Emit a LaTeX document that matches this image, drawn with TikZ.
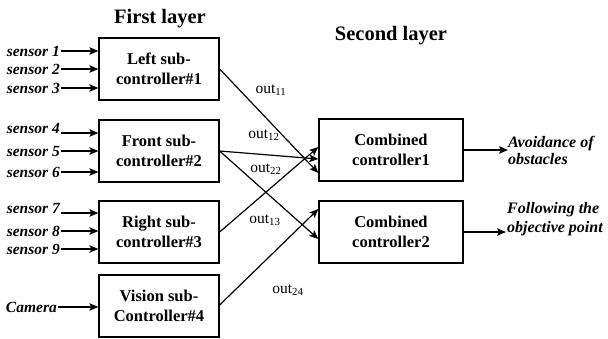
\documentclass[tikz,border=0pt]{standalone}
\usepackage{fontspec}
\setmainfont{Liberation Serif}
\usetikzlibrary{arrows.meta}
\tikzset{
  ctrl/.style={draw, line width=1.3pt, minimum width=120pt, minimum height=62pt,
    align=center, inner sep=0pt, font=\fontsize{16.5}{19.5}\selectfont\bfseries},
  comb/.style={ctrl, minimum width=144pt},
  inlabel/.style={anchor=east, inner sep=1pt, font=\fontsize{15.5}{18}\selectfont\bfseries\itshape},
  outlabel/.style={anchor=west, align=left, inner sep=0pt, font=\fontsize{16}{17}\selectfont\bfseries\itshape},
  sig/.style={font=\fontsize{15.5}{17}\selectfont, inner sep=0pt},
  heading/.style={font=\fontsize{20.5}{22}\selectfont\bfseries, inner sep=0pt},
  arr/.style={line width=1.2pt, -{Stealth[length=9pt,width=7.5pt,inset=2pt]}}
}
\begin{document}
\begin{tikzpicture}[x=1pt,y=-1pt]
\useasboundingbox (0,0) rectangle (608,338);

% headings
\node[heading] (h1) at (160,19) {First layer};
\node[heading] (h2) at (391,36) {Second layer};

% first layer controllers
\node[ctrl] (b1) at (159,69)  {Left sub-\\controller\#1};
\node[ctrl] (b2) at (159,151) {Front sub-\\controller\#2};
\node[ctrl] (b3) at (159,232) {Right sub-\\controller\#3};
\node[ctrl] (b4) at (159,306) {Vision sub-\\Controller\#4};

% second layer controllers
\node[comb] (c1) at (391,150) {Combined\\controller1};
\node[comb] (c2) at (391,232) {Combined\\controller2};

% sensor inputs
\node[inlabel] (s1) at (61,51)  {sensor 1};
\node[inlabel] (s2) at (61,69)  {sensor 2};
\node[inlabel] (s3) at (61,88)  {sensor 3};
\node[inlabel] (s4) at (61,128) {sensor 4};
\node[inlabel] (s5) at (61,151) {sensor 5};
\node[inlabel] (s6) at (61,172) {sensor 6};
\node[inlabel] (s7) at (61,208) {sensor 7};
\node[inlabel] (s8) at (61,231) {sensor 8};
\node[inlabel] (s9) at (61,249) {sensor 9};
\node[inlabel] (cam) at (58,307) {Camera};

\coordinate (p4) at (61,133);
\coordinate (p7) at (61,213);

\draw[arr] (s1.east) -- (s1.east -| b1.west);
\draw[arr] (s2.east) -- (s2.east -| b1.west);
\draw[arr] (s3.east) -- (s3.east -| b1.west);
\draw[arr] (p4) -- (p4 -| b2.west);
\draw[arr] (s5.east) -- (s5.east -| b2.west);
\draw[arr] (s6.east) -- (s6.east -| b2.west);
\draw[arr] (p7) -- (p7 -| b3.west);
\draw[arr] (s8.east) -- (s8.east -| b3.west);
\draw[arr] (s9.east) -- (s9.east -| b3.west);
\draw[arr] (cam.east) -- (cam.east -| b4.west);

% links between the layers
\coordinate (c1a) at ([yshift=-23pt]c1.west);
\coordinate (c1b) at ([yshift=-9pt]c1.west);
\coordinate (c1c) at ([yshift=3pt]c1.west);
\coordinate (c2a) at ([yshift=-7pt]c2.west);
\coordinate (c2b) at ([yshift=23pt]c2.west);

\draw[arr] (b1.east) -- (c1a);
\draw[arr] (b2.east) -- (c1b);
\draw[arr] (b2.east) -- (c2a);
\draw[arr] (b3.east) -- (c1c);
\draw[arr] ([yshift=1pt]b4.east) -- (c2b);

\node[sig] (o11) at (271,90)  {out\textsubscript{11}};
\node[sig] (o12) at (264,135) {out\textsubscript{12}};
\node[sig] (o22) at (266,169) {out\textsubscript{22}};
\node[sig] (o13) at (265,220) {out\textsubscript{13}};
\node[sig] (o24) at (288,290) {out\textsubscript{24}};

% outputs
\node[outlabel] (r1) at (508,150) {Avoidance of\\obstacles};
\node[outlabel] (r2) at (507,219) {Following the\\[2pt]objective point};
\draw[arr] (c1.east) -- (r1.west);
\draw[arr] (c2.east) -- ([xshift=-1pt]c2.east -| r2.west);
\end{tikzpicture}
\end{document}
